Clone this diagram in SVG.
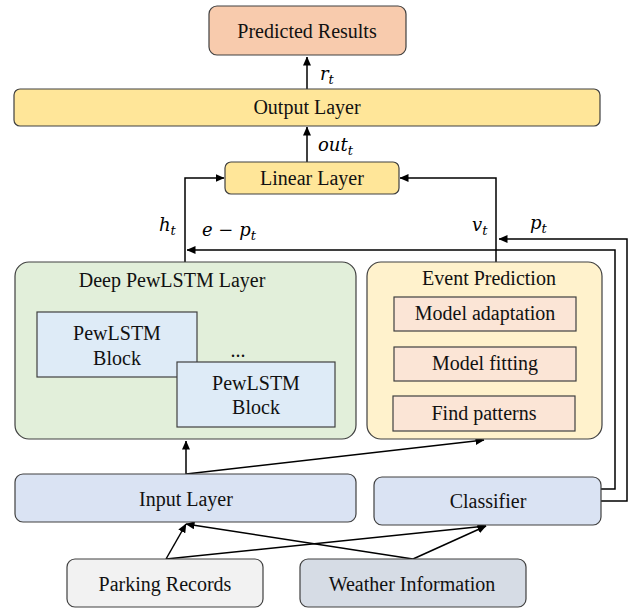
<svg xmlns="http://www.w3.org/2000/svg" width="634" height="610" viewBox="0 0 634 610">
<defs>
<marker id="ah" markerWidth="9" markerHeight="8" refX="8.5" refY="4" orient="auto" markerUnits="userSpaceOnUse">
<path d="M0,0 L9,4 L0,8 Z" fill="#000"/>
</marker>
<style>
.box{stroke:#404040;stroke-width:1.2}
.lbl{font-family:"Liberation Serif","Times New Roman",serif;font-size:20px;fill:#111;text-anchor:middle}
.math{font-family:"DejaVu Serif","Liberation Serif",serif;font-style:italic;font-size:18px;fill:#000}
.sub{font-size:13px}
.conn{stroke:#000;stroke-width:1.5;fill:none}
</style>
</defs>
<rect width="634" height="610" fill="#fff"/>

<g id="connectors">
<line class="conn" x1="307" y1="89" x2="307" y2="57" marker-end="url(#ah)"/>
<line class="conn" x1="307" y1="162" x2="307" y2="127" marker-end="url(#ah)"/>
<polyline class="conn" points="185,262 185,178 224,178" marker-end="url(#ah)"/>
<polyline class="conn" points="496,262 496,178 400,178" marker-end="url(#ah)"/>
<polyline class="conn" points="601,489 615,489 615,250 187,250" marker-end="url(#ah)"/>
<polyline class="conn" points="601,501 627,501 627,239 499,239" marker-end="url(#ah)"/>
<line class="conn" x1="186" y1="474" x2="186" y2="441" marker-end="url(#ah)"/>
<line class="conn" x1="186" y1="474" x2="484" y2="440" marker-end="url(#ah)"/>
<line class="conn" x1="166" y1="559" x2="186" y2="524" marker-end="url(#ah)"/>
<line class="conn" x1="166" y1="559" x2="486" y2="526" marker-end="url(#ah)"/>
<line class="conn" x1="413" y1="559" x2="186" y2="524" marker-end="url(#ah)"/>
<line class="conn" x1="413" y1="559" x2="486" y2="526" marker-end="url(#ah)"/>
<text class="math" x="320" y="80">r<tspan class="sub" dy="4">t</tspan></text>
<text class="math" x="318" y="151">out<tspan class="sub" dy="4">t</tspan></text>
<text class="math" x="159" y="231">h<tspan class="sub" dy="4">t</tspan></text>
<text class="math" x="202" y="236">e − p<tspan class="sub" dy="4">t</tspan></text>
<text class="math" x="472" y="231">v<tspan class="sub" dy="4">t</tspan></text>
<text class="math" x="530" y="229">p<tspan class="sub" dy="4">t</tspan></text>
</g>

<g id="predicted-results">
<rect class="box" x="209" y="6" width="197" height="49" rx="8" fill="#f8cbad"/>
<text class="lbl" x="307" y="38">Predicted Results</text>
</g>
<g id="output-layer">
<rect class="box" x="14" y="89" width="586" height="37" rx="6" fill="#ffe699"/>
<text class="lbl" x="307" y="114">Output Layer</text>
</g>
<g id="linear-layer">
<rect class="box" x="225" y="162" width="174" height="32" rx="6" fill="#ffe699"/>
<text class="lbl" x="312" y="185">Linear Layer</text>
</g>
<g id="deep-pewlstm">
<rect class="box" x="15" y="262" width="341" height="177" rx="14" fill="#e2efda"/>
<text class="lbl" x="172" y="287">Deep PewLSTM Layer</text>
</g>
<g id="pewlstm-block-1">
<rect class="box" x="37" y="312" width="160" height="65" fill="#deebf7"/>
<text class="lbl" x="117" y="340">PewLSTM</text>
<text class="lbl" x="117" y="365">Block</text>
</g>
<text class="lbl" x="238" y="357">...</text>
<g id="pewlstm-block-2">
<rect class="box" x="177" y="362" width="158" height="65" fill="#deebf7"/>
<text class="lbl" x="256" y="390">PewLSTM</text>
<text class="lbl" x="256" y="414">Block</text>
</g>
<g id="event-prediction">
<rect class="box" x="367" y="262" width="235" height="177" rx="14" fill="#fff2cc"/>
<text class="lbl" x="489" y="285">Event Prediction</text>
</g>
<g id="model-adaptation">
<rect class="box" x="394" y="297" width="182" height="34" fill="#fbe5d6"/>
<text class="lbl" x="485" y="320">Model adaptation</text>
</g>
<g id="model-fitting">
<rect class="box" x="394" y="347" width="182" height="34" fill="#fbe5d6"/>
<text class="lbl" x="485" y="370">Model fitting</text>
</g>
<g id="find-patterns">
<rect class="box" x="393" y="396" width="182" height="35" fill="#fbe5d6"/>
<text class="lbl" x="484" y="420">Find patterns</text>
</g>
<g id="input-layer">
<rect class="box" x="15" y="474" width="341" height="48" rx="8" fill="#dae3f3"/>
<text class="lbl" x="186" y="506">Input Layer</text>
</g>
<g id="classifier">
<rect class="box" x="374" y="477" width="227" height="48" rx="8" fill="#dae3f3"/>
<text class="lbl" x="488" y="508">Classifier</text>
</g>
<g id="parking-records">
<rect class="box" x="67" y="559" width="196" height="48" rx="8" fill="#f2f2f2"/>
<text class="lbl" x="165" y="591">Parking Records</text>
</g>
<g id="weather-information">
<rect class="box" x="300" y="559" width="226" height="48" rx="8" fill="#d6dce5"/>
<text class="lbl" x="412" y="591">Weather Information</text>
</g>
</svg>
